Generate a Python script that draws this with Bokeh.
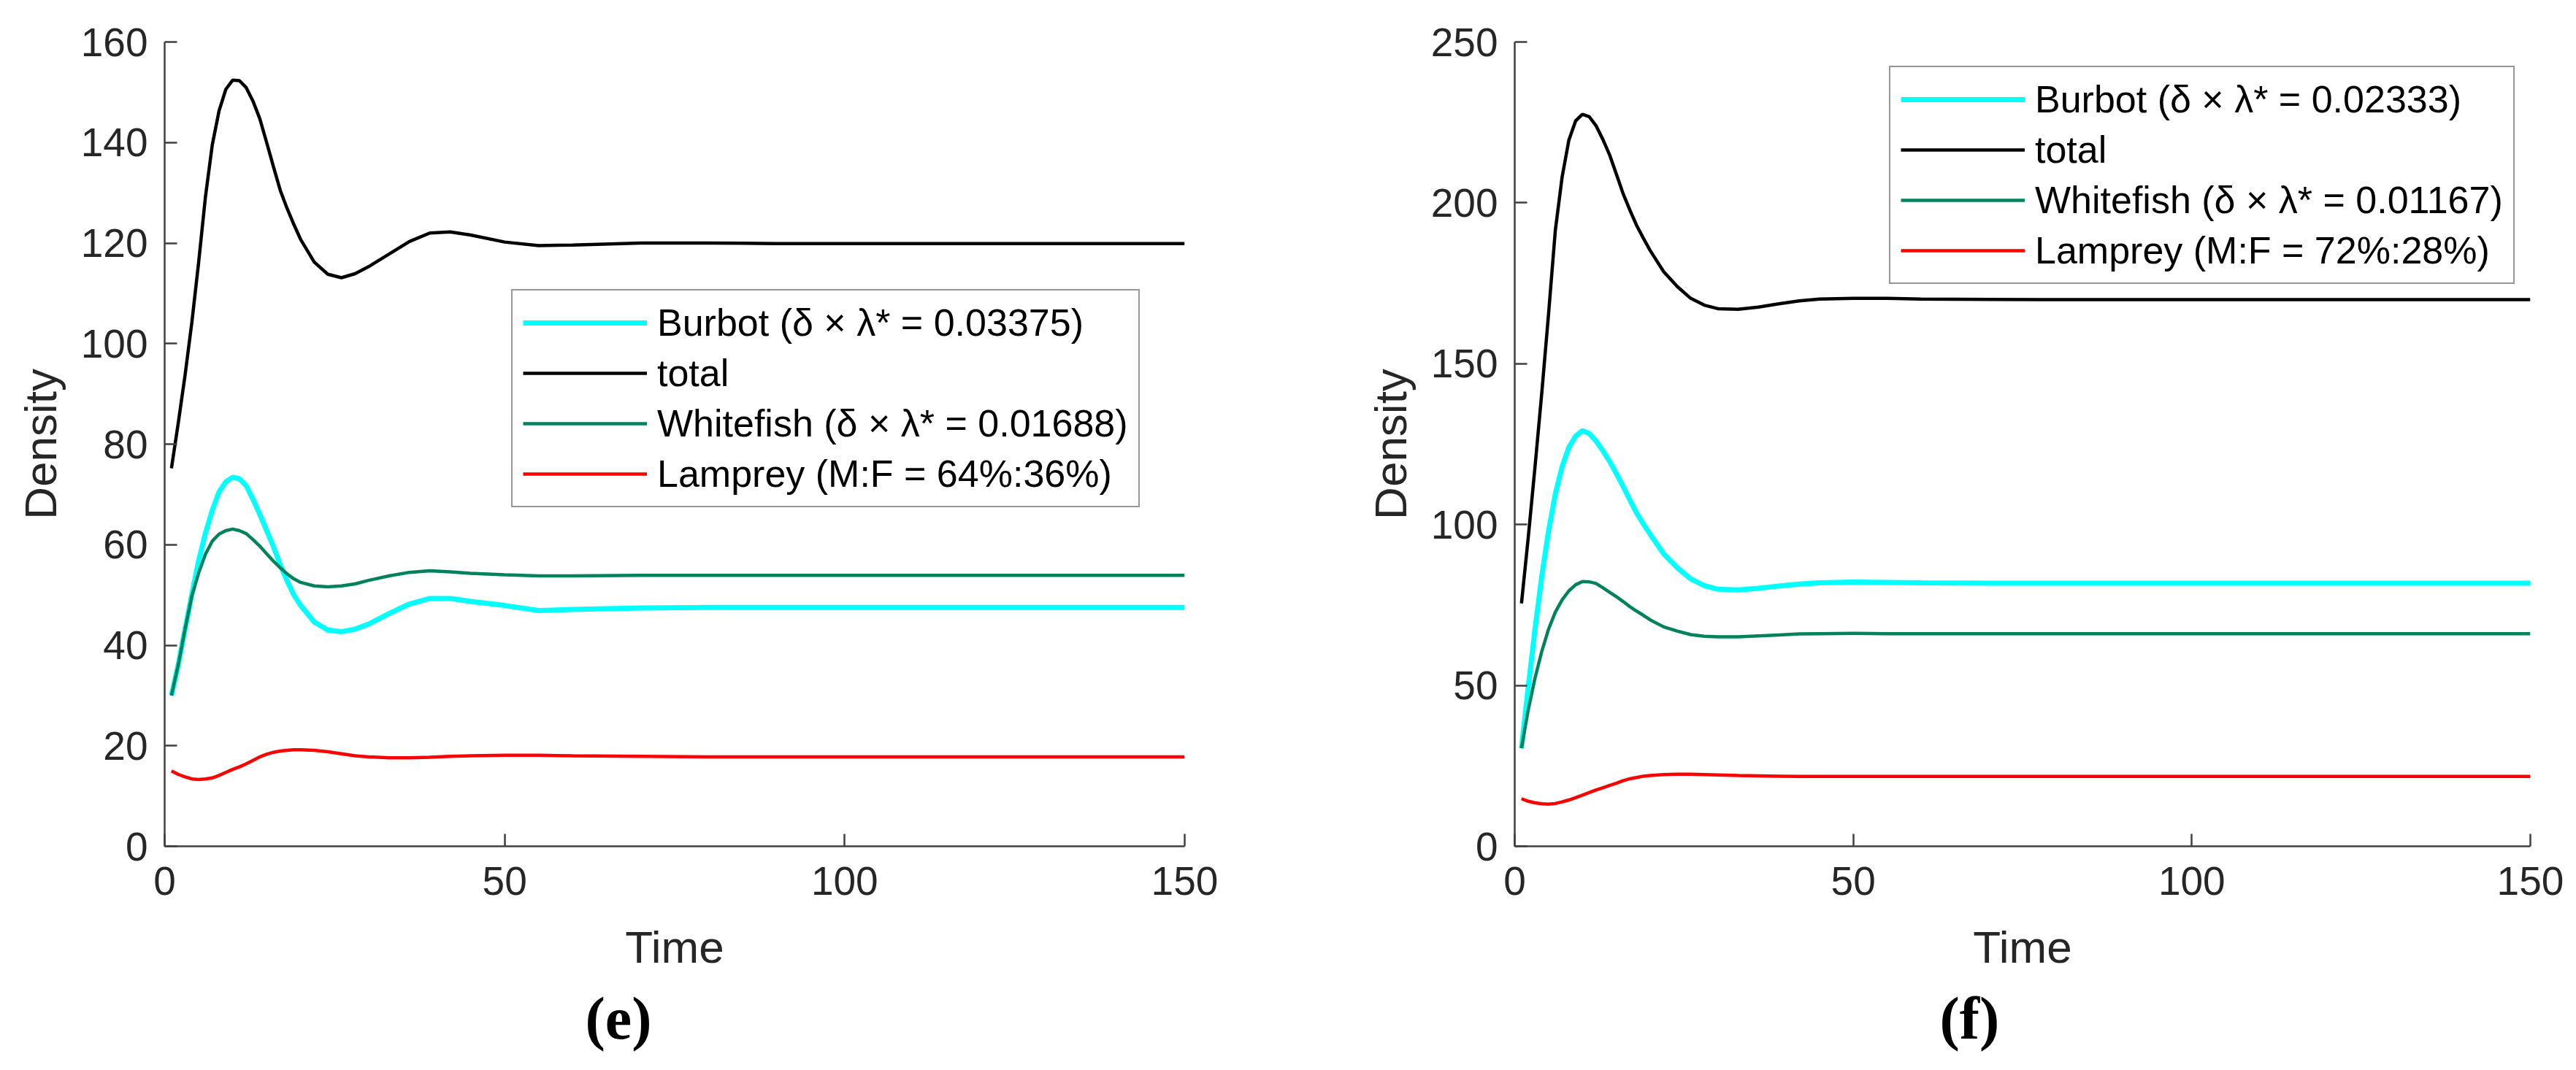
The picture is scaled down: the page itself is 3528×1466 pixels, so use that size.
from bokeh.plotting import figure
from bokeh.models import Range1d, FixedTicker, Legend, LegendItem, Title
from bokeh.layouts import row
from bokeh.embed import file_html
from bokeh.resources import INLINE

# ---------------- data ----------------
time = [1, 2, 3, 4, 5, 6, 7, 8, 9, 10, 11, 12, 13, 14, 15, 16, 17, 18, 19, 20,
        22, 24, 26, 28, 30, 33, 36, 39, 42, 45, 50, 55, 60, 70, 80, 90, 100,
        110, 120, 130, 140, 150]

# panel (e)
e_burbot = [30.0, 36.1, 43.2, 50.1, 56.8, 62.3, 66.8, 70.5, 72.5, 73.4, 73.1, 71.7, 69.0, 66.0, 62.8, 59.6, 56.0, 52.8, 50.0, 47.9,
            44.6, 43.0, 42.7, 43.2, 44.2, 46.3, 48.2, 49.3, 49.3, 48.7, 47.9, 46.9, 47.1, 47.4, 47.5, 47.5, 47.5, 47.5, 47.5, 47.5, 47.5, 47.5]
e_total = [75.2, 84.2, 93.7, 104.2, 116.2, 129.2, 139.5, 146.3, 150.6, 152.4, 152.3, 150.9, 148.2, 144.7, 140.0, 135.2, 130.5, 126.9, 123.7, 120.7,
           116.2, 113.8, 113.1, 113.9, 115.3, 117.8, 120.3, 122.0, 122.2, 121.6, 120.2, 119.5, 119.6, 120.0, 120.0, 119.9, 119.9, 119.9, 119.9, 119.9, 119.9, 119.9]
e_whitefish = [30.0, 36.1, 43.2, 49.8, 54.4, 58.1, 60.7, 62.1, 62.8, 63.1, 62.8, 62.2, 61.0, 59.7, 58.2, 56.7, 55.4, 54.2, 53.2, 52.5,
               51.8, 51.6, 51.8, 52.2, 52.9, 53.8, 54.5, 54.8, 54.6, 54.3, 54.0, 53.8, 53.8, 53.9, 53.9, 53.9, 53.9, 53.9, 53.9, 53.9, 53.9, 53.9]
e_lamprey = [15.0, 14.3, 13.8, 13.4, 13.3, 13.4, 13.6, 14.1, 14.7, 15.3, 15.8, 16.4, 17.1, 17.8, 18.3, 18.7, 18.95, 19.1, 19.2, 19.2,
             19.1, 18.8, 18.4, 18.0, 17.8, 17.6, 17.6, 17.7, 17.9, 18.0, 18.1, 18.1, 18.0, 17.9, 17.8, 17.8, 17.8, 17.8, 17.8, 17.8, 17.8, 17.8]

# panel (f)
f_burbot = [30.5, 49.5, 67.5, 84.0, 98.0, 109.5, 118.0, 124.0, 127.5, 129.2, 128.3, 126.0, 123.0, 119.7, 115.9, 111.9, 107.7, 103.6, 100.2, 97.0,
            90.9, 86.6, 83.1, 81.0, 79.9, 79.7, 80.2, 80.9, 81.5, 81.9, 82.1, 82.0, 81.9, 81.8, 81.8, 81.8, 81.8, 81.8, 81.8, 81.8, 81.8, 81.8]
f_total = [75.5, 96.0, 118.0, 141.0, 165.5, 191.5, 208.0, 219.5, 225.5, 227.5, 226.8, 224.0, 219.8, 215.0, 209.0, 202.9, 197.8, 193.0, 189.0, 185.2,
           178.6, 174.0, 170.3, 168.2, 167.1, 166.9, 167.6, 168.6, 169.5, 170.1, 170.3, 170.3, 170.1, 170.0, 169.9, 169.9, 169.9, 169.9, 169.9, 169.9, 169.9, 169.9]
f_whitefish = [30.5, 42.5, 52.3, 60.6, 67.5, 72.8, 76.6, 79.4, 81.3, 82.3, 82.2, 81.7, 80.4, 79.0, 77.6, 76.1, 74.5, 73.1, 71.8, 70.4,
               68.2, 66.9, 65.8, 65.3, 65.1, 65.1, 65.4, 65.7, 66.0, 66.1, 66.2, 66.1, 66.1, 66.1, 66.1, 66.1, 66.1, 66.1, 66.1, 66.1, 66.1, 66.1]
f_lamprey = [14.8, 14.0, 13.5, 13.2, 13.1, 13.3, 13.8, 14.4, 15.1, 15.9, 16.7, 17.5, 18.2, 18.9, 19.6, 20.4, 21.0, 21.4, 21.8, 22.0,
             22.3, 22.4, 22.4, 22.3, 22.2, 22.0, 21.9, 21.8, 21.7, 21.7, 21.7, 21.7, 21.7, 21.7, 21.7, 21.7, 21.7, 21.7, 21.7, 21.7, 21.7, 21.7]

x_ticks = [0, 50, 100, 150]
e_y_ticks = [0, 20, 40, 60, 80, 100, 120, 140, 160]
f_y_ticks = [0, 50, 100, 150, 200, 250]

e_labels = ["Burbot (δ × λ* = 0.03375)", "total", "Whitefish (δ × λ* = 0.01688)", "Lamprey (M:F = 64%:36%)"]
f_labels = ["Burbot (δ × λ* = 0.02333)", "total", "Whitefish (δ × λ* = 0.01167)", "Lamprey (M:F = 72%:28%)"]

colors = ["#00FFFF", "#000000", "#00835C", "#FF0000"]
widths = [7, 4.5, 4.5, 4.5]

SANS = "Liberation Sans"
SERIF = "Liberation Serif"
AX = "#404040"
TXT = "#262626"


def panel(series, labels, ymax, yticks, width, mb_left, mb_right, legend_loc, tag, tag_offset):
    p = figure(width=width, height=1458, x_range=Range1d(0, 150), y_range=Range1d(0, ymax),
               output_backend="svg", toolbar_location=None,
               min_border_left=mb_left, min_border_right=mb_right,
               min_border_top=57, min_border_bottom=299)
    p.outline_line_color = None
    p.xgrid.visible = False
    p.ygrid.visible = False
    p.background_fill_color = "white"
    p.border_fill_color = "white"

    p.xaxis.ticker = FixedTicker(ticks=x_ticks)
    p.yaxis.ticker = FixedTicker(ticks=yticks)
    for ax in (p.xaxis[0], p.yaxis[0]):
        ax.axis_line_color = AX
        ax.axis_line_width = 2.5
        ax.major_tick_line_color = AX
        ax.major_tick_line_width = 2.5
        ax.major_tick_in = 17
        ax.major_tick_out = 0
        ax.minor_tick_line_color = None
        ax.major_label_text_font = SANS
        ax.major_label_text_font_size = "55px"
        ax.major_label_text_color = TXT
        ax.axis_label_text_font = SANS
        ax.axis_label_text_font_size = "62px"
        ax.axis_label_text_font_style = "normal"
        ax.axis_label_text_color = TXT
    p.xaxis.axis_label = "Time"
    p.yaxis.axis_label = "Density"
    p.xaxis.major_label_standoff = 28
    p.yaxis.major_label_standoff = 23
    p.xaxis.axis_label_standoff = 34
    p.yaxis.axis_label_standoff = 18

    items = []
    for vals, lab, c, w in zip(series, labels, colors, widths):
        r = p.line(time, vals, line_color=c, line_width=w)
        items.append(LegendItem(label=lab, renderers=[r]))

    legend = Legend(items=items, location=legend_loc, glyph_width=170, glyph_height=50,
                    label_height=50, label_standoff=14, padding=14, spacing=9, margin=0,
                    label_text_font=SANS, label_text_font_size="52px", label_text_color="#000000",
                    border_line_color="#303030", border_line_width=2.5,
                    background_fill_color="white", background_fill_alpha=1.0)
    p.add_layout(legend)

    t = Title(text=tag, align="left", offset=tag_offset, standoff=26,
              text_font=SERIF, text_font_size="82px", text_font_style="bold",
              text_color="#000000")
    p.add_layout(t, "below")
    return p


p1 = panel([e_burbot, e_total, e_whitefish, e_lamprey], e_labels, 160, e_y_ticks,
           1764, 225, 142, (475, 464), "(e)", 576)
p2 = panel([f_burbot, f_total, f_whitefish, f_lamprey], f_labels, 250, f_y_ticks,
           1756, 310, 55, (513, 770), "(f)", 582)

layout = row(p1, p2)
open("out.html", "w").write(file_html(layout, INLINE))
